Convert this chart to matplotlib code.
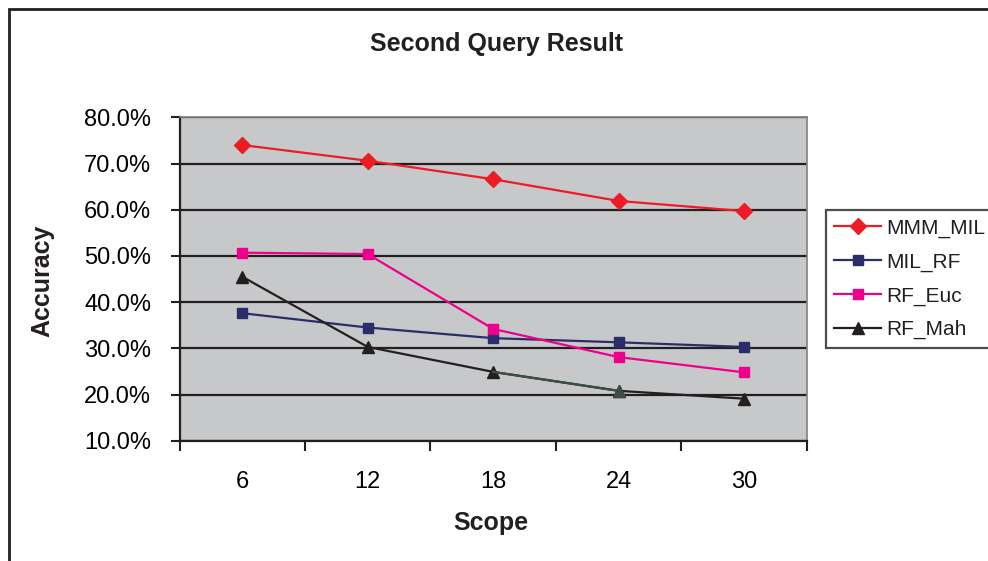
import matplotlib.pyplot as plt
from matplotlib.patches import Rectangle
from matplotlib.ticker import FuncFormatter, FixedLocator
import numpy as np

plt.rcParams['font.family'] = ['Liberation Sans', 'DejaVu Sans']

scope = ['6', '12', '18', '24', '30']
mmm_mil = [74.0, 70.6, 66.6, 61.9, 59.7]
mil_rf = [37.6, 34.5, 32.2, 31.3, 30.3]
rf_euc = [50.7, 50.4, 34.2, 28.1, 24.8]
rf_mah = [45.5, 30.3, 24.9, 20.8, 19.1]

x = np.arange(len(scope))

fig = plt.figure(figsize=(9.88, 5.61), dpi=100)
ax = fig.add_axes([0.1817, 0.2144, 0.6348, 0.5765])
ax.set_facecolor('#c7c8ca')

ax.plot(x, mmm_mil, color='#ed1c24', marker='D', ms=8, lw=1.6, label='MMM_MIL', zorder=4)
ax.plot(x, mil_rf, color='#2b2d6b', marker='s', ms=7.5, lw=1.6, label='MIL_RF', zorder=3)
ax.plot(x, rf_euc, color='#ec008c', marker='s', ms=7.5, lw=1.6, label='RF_Euc', zorder=3)
ax.plot(x, rf_mah, color='#231f20', marker='^', ms=8, lw=1.6, label='RF_Mah', zorder=3)
# one segment of RF_Mah comes out in a dark slate tone
ax.plot(x[2:4], rf_mah[2:4], color='#3d4f44', lw=1.6, zorder=3.1)
ax.plot(x[3:4], rf_mah[3:4], color='#3d4f44', marker='^', ms=8, lw=0, zorder=3.1)

ax.set_xlim(-0.5, len(scope) - 0.5)
ax.set_ylim(10, 80)
ax.set_yticks(np.arange(10, 81, 10))
ax.yaxis.set_major_formatter(FuncFormatter(lambda v, p: f'{v:.1f}%'))
ax.set_xticks(x)
ax.set_xticklabels(scope)
ax.xaxis.set_minor_locator(FixedLocator(np.arange(-0.5, len(scope), 1.0)))

ax.tick_params(axis='x', which='major', length=0, pad=22, labelsize=17)
ax.tick_params(axis='x', which='minor', length=7.5, width=1.5, direction='out', color='#231f20')
ax.tick_params(axis='y', length=6.5, width=1.5, direction='out', pad=14, labelsize=17,
               color='#231f20')

ax.grid(axis='y', color='#231f20', lw=1.6)
ax.set_axisbelow(True)
for side in ['left', 'bottom']:
    ax.spines[side].set_color('#231f20')
    ax.spines[side].set_linewidth(1.6)
for side in ['top', 'right']:
    ax.spines[side].set_color('#808080')
    ax.spines[side].set_linewidth(1.2)

fig.text(496 / 988, 1 - 44 / 561, 'Second Query Result', ha='center', va='center',
         fontsize=18, fontweight='bold', color='#231f20')
fig.text(491 / 988, 1 - 523 / 561, 'Scope', ha='center', va='center',
         fontsize=18, fontweight='bold', color='#231f20')
fig.text(42 / 988, 1 - 281 / 561, 'Accuracy', ha='center', va='center', rotation=90,
         fontsize=18, fontweight='bold', color='#231f20')

leg = fig.legend(loc='lower left', bbox_to_anchor=(825.7 / 988, 1 - 347.7 / 561),
                 fontsize=15, frameon=True, fancybox=False, handlelength=2.26,
                 handletextpad=0.25, labelspacing=0.7, borderpad=0.4,
                 borderaxespad=0)
leg.get_frame().set_edgecolor('#231f20')
leg.get_frame().set_linewidth(1.6)
for t in leg.get_texts():
    t.set_color('#231f20')

# outer chart frame, running off the right and bottom edges
fig.patches.append(Rectangle((8.5 / 988, -0.1), 1.2, 1 - 8.5 / 561 + 0.1,
                             transform=fig.transFigure, fill=False,
                             edgecolor='#231f20', lw=2))

fig.savefig('out.png', dpi=100)
